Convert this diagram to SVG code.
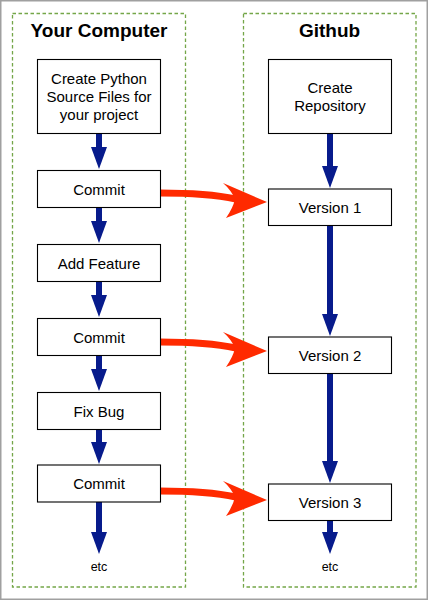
<svg xmlns="http://www.w3.org/2000/svg" width="428" height="600" viewBox="0 0 428 600">
  <defs>
    <style>
      .frame { fill: #ffffff; stroke: #a0a0a0; stroke-width: 1.5; }
      .lane { fill: none; stroke: #74a648; stroke-width: 1.3; stroke-dasharray: 3.5 2.5; }
      .title { font-family: "Liberation Sans", Arial, sans-serif; font-weight: bold; font-size: 19px; fill: #000; text-anchor: middle; }
      .box { fill: #ffffff; stroke: #000000; stroke-width: 1.1; }
      .lbl { font-family: "Liberation Sans", Arial, sans-serif; font-size: 15px; fill: #000; text-anchor: middle; }
      .etc { font-family: "Liberation Sans", Arial, sans-serif; font-size: 12.5px; fill: #000; text-anchor: middle; }
      .flow { fill: none; stroke: #071b8c; stroke-width: 6; marker-end: url(#blueHead); }
      .push { fill: none; stroke: #ff2a00; stroke-width: 7; }
      .pushHead { fill: #ff2a00; stroke: none; }
    </style>
    <marker id="blueHead" viewBox="0 0 22 16" refX="1" refY="8" markerWidth="22" markerHeight="16" markerUnits="userSpaceOnUse" orient="auto">
      <path d="M0,0 L22,8 L0,16 Z" fill="#071b8c"/>
    </marker>
    <g id="redArrow">
      <path class="push" d="M0,0 C28,0 52,1 76,6"/>
      <path class="pushHead" d="M63,-10 L107,9 L66,25 Q73,15 75,6 Q71,-3 63,-10 Z"/>
    </g>
  </defs>

  <rect class="frame" x="0.75" y="0.75" width="426.5" height="598.5"/>

  <g id="lane-computer">
    <rect class="lane" x="12.5" y="13.5" width="173" height="573.5"/>
    <text class="title" x="99" y="37">Your Computer</text>
  </g>
  <g id="lane-github">
    <rect class="lane" x="243.5" y="13.5" width="172.5" height="573.5"/>
    <text class="title" x="329.5" y="37">Github</text>
  </g>

  <g id="connectors">
    <line class="flow" x1="99" y1="133" x2="99" y2="148"/>
    <line class="flow" x1="99" y1="207" x2="99" y2="222"/>
    <line class="flow" x1="99" y1="281" x2="99" y2="296"/>
    <line class="flow" x1="99" y1="355" x2="99" y2="370"/>
    <line class="flow" x1="99" y1="429" x2="99" y2="443"/>
    <line class="flow" x1="99" y1="502" x2="99" y2="533"/>
    <line class="flow" x1="330" y1="133" x2="330" y2="167"/>
    <line class="flow" x1="330" y1="225" x2="330" y2="315"/>
    <line class="flow" x1="330" y1="373" x2="330" y2="462"/>
    <line class="flow" x1="330" y1="520" x2="330" y2="533"/>
    <use href="#redArrow" transform="translate(160,193)"/>
    <use href="#redArrow" transform="translate(160,342)"/>
    <use href="#redArrow" transform="translate(160,491)"/>
  </g>

  <g id="n-create-source">
    <rect class="box" x="37.5" y="59.5" width="123" height="74"/>
    <text class="lbl" x="99" y="83.5">Create Python</text>
    <text class="lbl" x="99" y="101.5">Source Files for</text>
    <text class="lbl" x="99" y="119.5">your project</text>
  </g>
  <g id="n-commit-1">
    <rect class="box" x="37.5" y="170.5" width="123" height="37"/>
    <text class="lbl" x="99" y="194.5">Commit</text>
  </g>
  <g id="n-add-feature">
    <rect class="box" x="37.5" y="244.5" width="123" height="37"/>
    <text class="lbl" x="99" y="268.5">Add Feature</text>
  </g>
  <g id="n-commit-2">
    <rect class="box" x="37.5" y="318.5" width="123" height="37"/>
    <text class="lbl" x="99" y="342.5">Commit</text>
  </g>
  <g id="n-fix-bug">
    <rect class="box" x="37.5" y="392.5" width="123" height="37"/>
    <text class="lbl" x="99" y="416.5">Fix Bug</text>
  </g>
  <g id="n-commit-3">
    <rect class="box" x="37.5" y="465" width="123" height="37"/>
    <text class="lbl" x="99" y="489">Commit</text>
  </g>
  <g id="n-etc-left">
    <text class="etc" x="99" y="571">etc</text>
  </g>

  <g id="n-create-repo">
    <rect class="box" x="268.5" y="59.5" width="123" height="74"/>
    <text class="lbl" x="330" y="92.5">Create</text>
    <text class="lbl" x="330" y="110.5">Repository</text>
  </g>
  <g id="n-version-1">
    <rect class="box" x="268.5" y="189" width="123" height="36.5"/>
    <text class="lbl" x="330" y="212.5">Version 1</text>
  </g>
  <g id="n-version-2">
    <rect class="box" x="268.5" y="337" width="123" height="36.5"/>
    <text class="lbl" x="330" y="360.5">Version 2</text>
  </g>
  <g id="n-version-3">
    <rect class="box" x="268.5" y="484" width="123" height="36.5"/>
    <text class="lbl" x="330" y="507.5">Version 3</text>
  </g>
  <g id="n-etc-right">
    <text class="etc" x="330" y="571">etc</text>
  </g>
</svg>
